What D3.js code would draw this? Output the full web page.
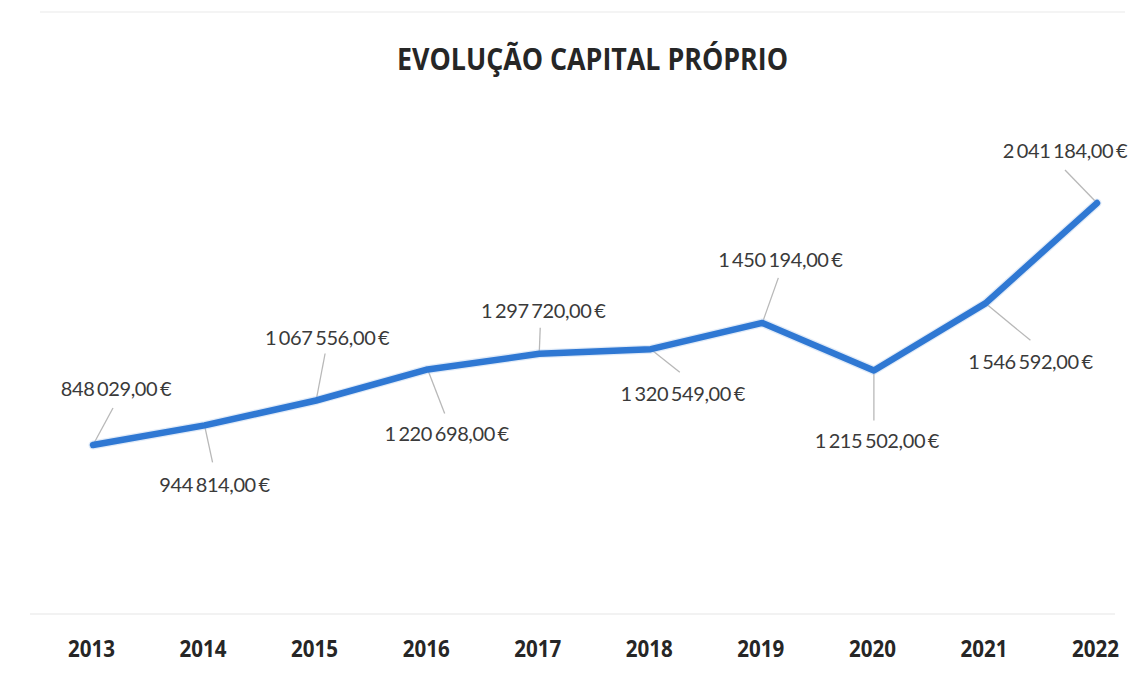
<!DOCTYPE html>
<html>
<head>
<meta charset="utf-8">
<script src="https://cdn.jsdelivr.net/npm/d3@7"></script>
<style>
  html, body { margin: 0; padding: 0; background: #ffffff; }
  svg { display: block; }
</style>
</head>
<body>
<svg id="chart" width="1134" height="674"></svg>
<script>
// ---- Data ----
const title = "EVOLUÇÃO CAPITAL PRÓPRIO";
const years = ["2013", "2014", "2015", "2016", "2017", "2018", "2019", "2020", "2021", "2022"];
const capitalValues = [848029, 944814, 1067556, 1220698, 1297720, 1320549, 1450194, 1215502, 1546592, 2041184];

// ---- Layout (label placement, as in the original manually placed data labels) ----
const labelOffsets = [
  { dx: 23, dy: -56, lx: 20, ly: -37 },
  { dx: 10, dy: 59, lx: 8, ly: 37 },
  { dx: 11, dy: -63, lx: 9, ly: -47 },
  { dx: 19, dy: 64, lx: 17, ly: 44 },
  { dx: 4, dy: -43, lx: 1, ly: -26 },
  { dx: 32, dy: 45, lx: 29, ly: 23 },
  { dx: 18, dy: -63, lx: 16, ly: -45 },
  { dx: 3, dy: 70, lx: 0, ly: 50 },
  { dx: 45, dy: 58, lx: 45, ly: 37 },
  { dx: -32, dy: -52, lx: -32, ly: -33 }
];

const svg = d3.select("#chart");
const W = 1134, H = 674;

const x = d3.scalePoint().domain(years).range([93, 1097]);
const y = d3.scaleLinear().domain([0, 2500000]).range([617, 110]);

const locale = d3.formatLocale({ decimal: ",", thousands: " ", grouping: [3], currency: ["", " €"] });
const fmt = v => locale.format(",.2f")(v) + " €";

svg.append("rect").attr("width", W).attr("height", H).attr("fill", "#ffffff");

// faint chart border remnants
svg.append("line").attr("x1", 40).attr("x2", 1125).attr("y1", 12).attr("y2", 12)
  .attr("stroke", "#f0f0f0").attr("stroke-width", 1.5);

// faint axis line
svg.append("line").attr("x1", 30).attr("x2", 1115).attr("y1", y(0) - 3).attr("y2", y(0) - 3)
  .attr("stroke", "#f2f2f2").attr("stroke-width", 2);

// Title
svg.append("text")
  .attr("x", 397).attr("y", 70)
  .attr("textLength", 391).attr("lengthAdjust", "spacingAndGlyphs")
  .attr("font-family", "'Open Sans', sans-serif")
  .attr("font-weight", "bold")
  .attr("font-size", 30)
  .attr("fill", "#262626")
  .text(title);

// X axis labels
const xAxis = d3.axisBottom(x).tickSize(0).tickPadding(0);
const gx = svg.append("g").attr("transform", "translate(-2, 657)").call(xAxis);
gx.select(".domain").remove();
gx.selectAll("text")
  .attr("dy", 0)
  .attr("y", 0)
  .attr("textLength", 47).attr("lengthAdjust", "spacingAndGlyphs")
  .attr("font-family", "'Open Sans', sans-serif")
  .attr("font-weight", "bold")
  .attr("font-size", 23)
  .attr("fill", "#262626");

const data = years.map((yr, i) => ({ year: yr, value: capitalValues[i], off: labelOffsets[i] }));

// Leader lines
svg.append("g").selectAll("line").data(data).join("line")
  .attr("x1", d => x(d.year)).attr("y1", d => y(d.value))
  .attr("x2", d => x(d.year) + d.off.lx).attr("y2", d => y(d.value) + d.off.ly)
  .attr("stroke", "#b8b8b8").attr("stroke-width", 1.3);

// Line
const line = d3.line().x(d => x(d.year)).y(d => y(d.value));
svg.append("path").datum(data)
  .attr("d", line)
  .attr("fill", "none")
  .attr("stroke", "#a9c6ec")
  .attr("stroke-width", 9)
  .attr("stroke-opacity", 0.35)
  .attr("stroke-linejoin", "round")
  .attr("stroke-linecap", "round");
svg.append("path").datum(data)
  .attr("d", line)
  .attr("fill", "none")
  .attr("stroke", "#2f78d3")
  .attr("stroke-width", 6.5)
  .attr("stroke-linejoin", "round")
  .attr("stroke-linecap", "round");

// Data labels
svg.append("g").selectAll("text").data(data).join("text")
  .attr("x", d => x(d.year) + d.off.dx)
  .attr("y", d => y(d.value) + d.off.dy)
  .attr("dy", "0.36em")
  .attr("text-anchor", "middle")
  .attr("font-family", "Lato, sans-serif")
  .attr("font-size", 20)
  .attr("letter-spacing", "-0.4px")
  .attr("word-spacing", "-2px")
  .attr("fill", "#3a3a3a")
  .text(d => fmt(d.value));
</script>
</body>
</html>
